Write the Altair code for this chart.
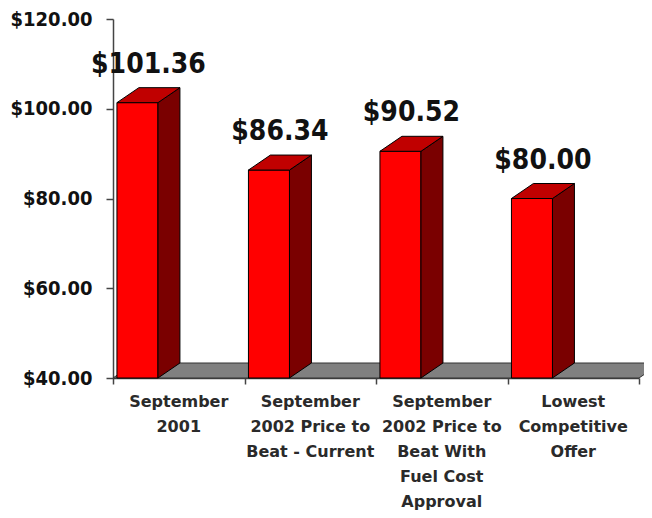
import altair as alt
import pandas as pd

# ---- data ----
categories = [
    "September\n2001",
    "September\n2002 Price to\nBeat - Current",
    "September\n2002 Price to\nBeat With\nFuel Cost\nApproval",
    "Lowest\nCompetitive\nOffer",
]
prices = [101.36, 86.34, 90.52, 80.00]
y_ticks = [40, 60, 80, 100, 120]
y_min, y_max = 40, 120

# ---- 3D style geometry (in scale units) ----
GAP, BAR_W, DX, DY = 0.03, 0.312, 0.167, 3.34
n = len(categories)
idx = list(range(n))

front = pd.DataFrame({
    "cat": categories,
    "x0": [i + GAP for i in idx],
    "x1": [i + GAP + BAR_W for i in idx],
    "base": [y_min] * n,
    "v": prices,
    "xc": [i + GAP + (BAR_W + DX) / 2 for i in idx],
    "xm": [i + 0.5 for i in idx],
})

side_rows = []
top_rows = []
for i, (c, v) in enumerate(zip(categories, prices)):
    xr = i + GAP + BAR_W
    xl = i + GAP
    side_rows.append({"cat": c, "x": xr, "y": v, "y2": y_min})
    side_rows.append({"cat": c, "x": xr + DX, "y": v + DY, "y2": y_min + DY})
    top_rows.append({"cat": c, "y": v, "x": xl, "x2": xr})
    top_rows.append({"cat": c, "y": v + DY, "x": xl + DX, "x2": xr + DX})
side = pd.DataFrame(side_rows)
top = pd.DataFrame(top_rows)
floor = pd.DataFrame({
    "y": [y_min, y_min + DY],
    "x": [0, DX],
    "x2": [n, n + DX],
})

xs = alt.Scale(domain=[0, n], zero=False, nice=False)
ys = alt.Scale(domain=[y_min, y_max], zero=False, nice=False)

AX_COLOR = "#444444"

floor_layer = alt.Chart(floor).mark_area(
    orient="horizontal", color="#808080", stroke="#333333", strokeWidth=1
).encode(
    y=alt.Y("y:Q", scale=ys, axis=alt.Axis(
        values=y_ticks, format="$.2f", title=None, grid=False,
        labelFont="DejaVu Sans Condensed", labelFontWeight="bold",
        labelFontSize=20, labelColor="#111111", labelPadding=14,
        tickSize=7, tickWidth=1.5, tickColor=AX_COLOR,
        domainColor=AX_COLOR, domainWidth=1.5)),
    x=alt.X("x:Q", scale=xs, axis=alt.Axis(
        values=list(range(n + 1)), labels=False, title=None, grid=False,
        tickSize=6, tickWidth=1.5, tickColor=AX_COLOR,
        domainColor=AX_COLOR, domainWidth=1.5)),
    x2="x2:Q",
)

front_layer = alt.Chart(front).mark_rect(
    color="#FF0000", stroke="#000000", strokeWidth=1
).encode(
    x=alt.X("x0:Q", scale=xs), x2="x1:Q",
    y=alt.Y("base:Q", scale=ys), y2="v:Q",
)

side_layer = alt.Chart(side).mark_area(
    orient="vertical", color="#7A0000", stroke="#000000", strokeWidth=1
).encode(
    x=alt.X("x:Q", scale=xs),
    y=alt.Y("y:Q", scale=ys), y2="y2:Q",
    detail="cat:N",
)

top_layer = alt.Chart(top).mark_area(
    orient="horizontal", color="#C00000", stroke="#000000", strokeWidth=1
).encode(
    y=alt.Y("y:Q", scale=ys),
    x=alt.X("x:Q", scale=xs), x2="x2:Q",
    detail="cat:N",
)

value_labels = alt.Chart(front).mark_text(
    font="DejaVu Sans Condensed", fontWeight="bold", fontSize=28,
    color="#111111", align="center", baseline="alphabetic", dy=-30
).encode(
    x=alt.X("xc:Q", scale=xs),
    y=alt.Y("v:Q", scale=ys),
    text=alt.Text("v:Q", format="$.2f"),
)

cat_labels = alt.Chart(front).mark_text(
    font="DejaVu Sans", fontWeight="bold", fontSize=16,
    color="#2a2a2a", align="center", baseline="alphabetic",
    lineBreak="\n", lineHeight=25, dy=29
).encode(
    x=alt.X("xm:Q", scale=xs),
    y=alt.Y("base:Q", scale=ys),
    text="cat:N",
)

chart = alt.layer(
    floor_layer, front_layer, side_layer, top_layer, value_labels, cat_labels
).properties(
    width=526, height=359,
    autosize=alt.AutoSizeParams(type="none"),
    padding={"left": 105, "top": 11, "right": 5, "bottom": 136},
    background="white",
).configure_view(stroke=None)

chart.save("out.html", embed_options={"renderer": "svg", "actions": False})
